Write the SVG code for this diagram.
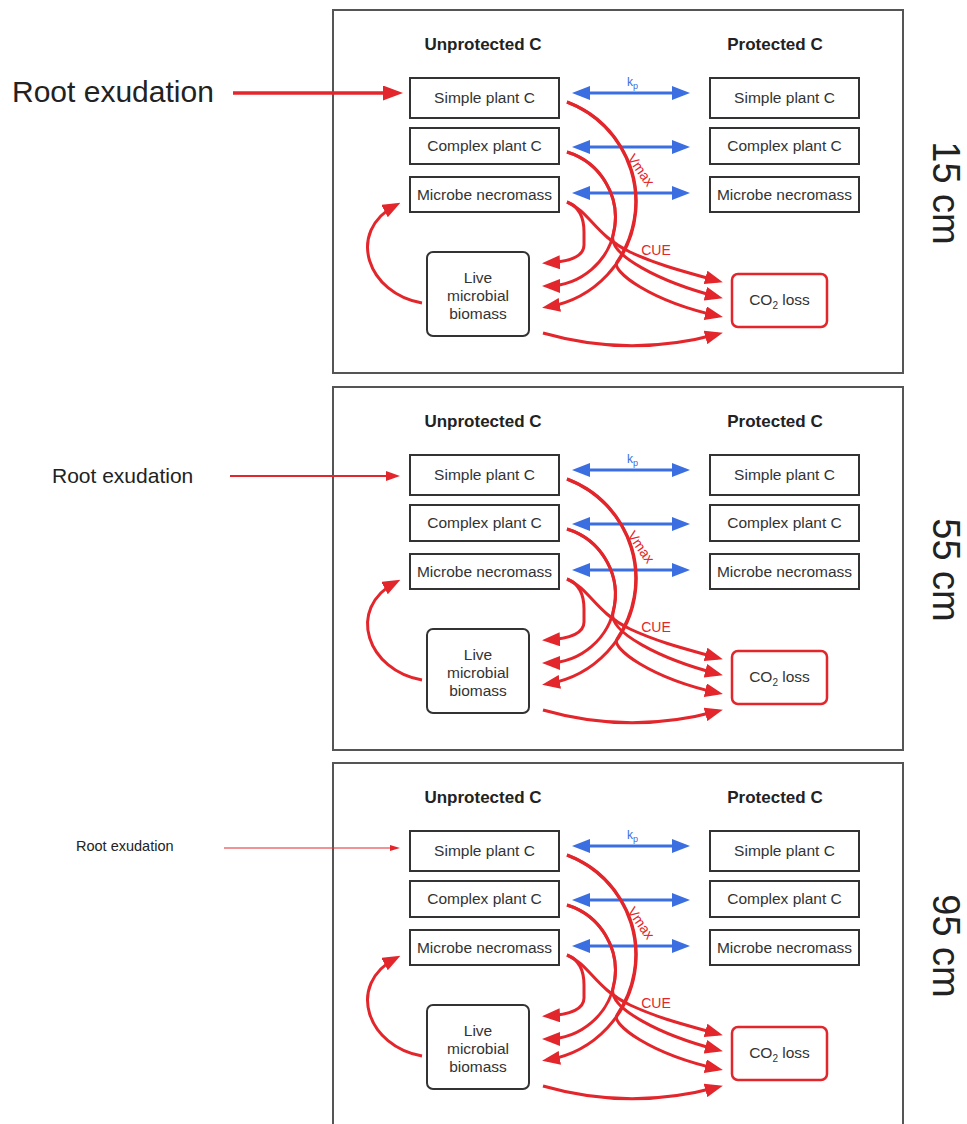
<svg xmlns="http://www.w3.org/2000/svg" width="967" height="1124" viewBox="0 0 967 1124">
<defs>
<style>
.panel{fill:#fff;stroke:#555;stroke-width:2}
.box{fill:#fff;stroke:#333;stroke-width:2}
.co2{fill:#fff;stroke:#e3262b;stroke-width:2.5}
.hdr{font-family:'Liberation Sans',Arial,sans-serif;font-weight:bold;font-size:17px;fill:#222;text-anchor:middle}
.lbl{font-family:'Liberation Sans',Arial,sans-serif;font-size:15.5px;fill:#333;text-anchor:middle}
.rl{font-family:'Liberation Sans',Arial,sans-serif;font-size:14px;fill:#e3262b;text-anchor:middle}
.bl{font-family:'Liberation Sans',Arial,sans-serif;font-size:12px;fill:#3b6ee0}
.root{font-family:'Liberation Sans',Arial,sans-serif;fill:#222}
.depth{font-family:'Liberation Sans',Arial,sans-serif;font-size:38px;fill:#222;text-anchor:middle}
.red{fill:none;stroke:#e3262b;stroke-width:3;marker-end:url(#aR)}
.blue{fill:none;stroke:#3b6ee0;stroke-width:3;marker-start:url(#aB);marker-end:url(#aB)}
</style>
<marker id="aR" markerUnits="userSpaceOnUse" markerWidth="18" markerHeight="14" refX="13" refY="7" orient="auto"><path d="M0,0 L18,7 L0,14 z" fill="#e3262b"/></marker>
<marker id="aB" markerUnits="userSpaceOnUse" markerWidth="18" markerHeight="14" refX="13" refY="7" orient="auto-start-reverse"><path d="M0,0 L18,7 L0,14 z" fill="#3b6ee0"/></marker>
<marker id="aRoot1" markerUnits="userSpaceOnUse" markerWidth="20" markerHeight="15" refX="12" refY="7.5" orient="auto"><path d="M0,0 L20,7.5 L0,15 z" fill="#e3262b"/></marker>
<marker id="aRoot2" markerUnits="userSpaceOnUse" markerWidth="14" markerHeight="10" refX="8" refY="5" orient="auto"><path d="M0,0 L14,5 L0,10 z" fill="#e3262b"/></marker>
<marker id="aRoot3" markerUnits="userSpaceOnUse" markerWidth="10" markerHeight="6" refX="6" refY="3" orient="auto"><path d="M0,0 L10,3 L0,6 z" fill="#e3262b"/></marker>
</defs>
<rect x="0" y="0" width="967" height="1124" fill="#fff"/>

<!-- Panel 15 cm -->
<g id="panel-15cm">
<rect class="panel" x="333" y="10" width="570" height="363"/>
<text class="hdr" x="483" y="50">Unprotected C</text>
<text class="hdr" x="775" y="50">Protected C</text>
<text class="depth" transform="translate(933,193) rotate(90)">15 cm</text>
<text class="root" x="12" y="102" font-size="30">Root exudation</text>
<g id="p15-u-simple"><rect class="box" x="410" y="78" width="149" height="40"/><text class="lbl" x="484.5" y="103">Simple plant C</text></g>
<g id="p15-u-complex"><rect class="box" x="410" y="128" width="149" height="36"/><text class="lbl" x="484.5" y="151">Complex plant C</text></g>
<g id="p15-u-necro"><rect class="box" x="410" y="177" width="149" height="35"/><text class="lbl" x="484.5" y="200">Microbe necromass</text></g>
<g id="p15-p-simple"><rect class="box" x="710" y="78" width="149" height="40"/><text class="lbl" x="784.5" y="103">Simple plant C</text></g>
<g id="p15-p-complex"><rect class="box" x="710" y="128" width="149" height="36"/><text class="lbl" x="784.5" y="151">Complex plant C</text></g>
<g id="p15-p-necro"><rect class="box" x="710" y="177" width="149" height="35"/><text class="lbl" x="784.5" y="200">Microbe necromass</text></g>
<g id="p15-biomass"><rect class="box" x="427" y="252" width="102" height="84" rx="6"/><text class="lbl" x="478" y="283">Live</text><text class="lbl" x="478" y="301">microbial</text><text class="lbl" x="478" y="319">biomass</text></g>
<g id="p15-co2"><rect class="co2" x="732" y="274" width="95" height="53" rx="6"/><text class="lbl" x="779.5" y="305">CO<tspan font-size="10" dy="4">2</tspan><tspan dy="-4"> loss</tspan></text></g>
<g id="p15-connectors">
<path d="M233,93 L395,93" fill="none" stroke="#e3262b" stroke-width="3.5" marker-end="url(#aRoot1)"/>
<path class="blue" d="M577,93 L685,93"/>
<path class="blue" d="M577,147 L685,147"/>
<path class="blue" d="M577,193 L685,193"/>
<text class="bl" x="627" y="86">k<tspan font-size="9" dy="3">p</tspan></text>
<path class="red" d="M567,102 A106.6,106.6 0 0 1 547,307"/>
<path class="red" d="M567,152 A68.5,68.5 0 0 1 547,286"/>
<path class="red" d="M567,202 C580,207 584,218 584,232 L584,245 Q584,261 547,263"/>
<path class="red" d="M567,102 A106.6,106.6 0 0 1 617,262 C611,271 650,301 718,316"/>
<path class="red" d="M567,152 A68.5,68.5 0 0 1 613,235 C608,255 660,282 718,297"/>
<path class="red" d="M567,202 C590,212 595,235 630,252 C660,266 690,273 718,281"/>
<path class="red" d="M543,333 Q630,358 718,334"/>
<path class="red" d="M422,303 C368,294 345,232 396,205"/>
<text class="rl" transform="translate(641,170) rotate(55)" y="5">Vmax</text>
<text class="rl" x="656" y="255">CUE</text>
</g>
</g>

<!-- Panel 55 cm -->
<g id="panel-55cm" transform="translate(0,377)">
<rect class="panel" x="333" y="10" width="570" height="363"/>
<text class="hdr" x="483" y="50">Unprotected C</text>
<text class="hdr" x="775" y="50">Protected C</text>
<text class="depth" transform="translate(933,193) rotate(90)">55 cm</text>
<text class="root" x="52" y="106" font-size="21">Root exudation</text>
<g id="p55-u-simple"><rect class="box" x="410" y="78" width="149" height="40"/><text class="lbl" x="484.5" y="103">Simple plant C</text></g>
<g id="p55-u-complex"><rect class="box" x="410" y="128" width="149" height="36"/><text class="lbl" x="484.5" y="151">Complex plant C</text></g>
<g id="p55-u-necro"><rect class="box" x="410" y="177" width="149" height="35"/><text class="lbl" x="484.5" y="200">Microbe necromass</text></g>
<g id="p55-p-simple"><rect class="box" x="710" y="78" width="149" height="40"/><text class="lbl" x="784.5" y="103">Simple plant C</text></g>
<g id="p55-p-complex"><rect class="box" x="710" y="128" width="149" height="36"/><text class="lbl" x="784.5" y="151">Complex plant C</text></g>
<g id="p55-p-necro"><rect class="box" x="710" y="177" width="149" height="35"/><text class="lbl" x="784.5" y="200">Microbe necromass</text></g>
<g id="p55-biomass"><rect class="box" x="427" y="252" width="102" height="84" rx="6"/><text class="lbl" x="478" y="283">Live</text><text class="lbl" x="478" y="301">microbial</text><text class="lbl" x="478" y="319">biomass</text></g>
<g id="p55-co2"><rect class="co2" x="732" y="274" width="95" height="53" rx="6"/><text class="lbl" x="779.5" y="305">CO<tspan font-size="10" dy="4">2</tspan><tspan dy="-4"> loss</tspan></text></g>
<g id="p55-connectors">
<path d="M230,99 L394,99" fill="none" stroke="#e3262b" stroke-width="2" marker-end="url(#aRoot2)"/>
<path class="blue" d="M577,93 L685,93"/>
<path class="blue" d="M577,147 L685,147"/>
<path class="blue" d="M577,193 L685,193"/>
<text class="bl" x="627" y="86">k<tspan font-size="9" dy="3">p</tspan></text>
<path class="red" d="M567,102 A106.6,106.6 0 0 1 547,307"/>
<path class="red" d="M567,152 A68.5,68.5 0 0 1 547,286"/>
<path class="red" d="M567,202 C580,207 584,218 584,232 L584,245 Q584,261 547,263"/>
<path class="red" d="M567,102 A106.6,106.6 0 0 1 617,262 C611,271 650,301 718,316"/>
<path class="red" d="M567,152 A68.5,68.5 0 0 1 613,235 C608,255 660,282 718,297"/>
<path class="red" d="M567,202 C590,212 595,235 630,252 C660,266 690,273 718,281"/>
<path class="red" d="M543,333 Q630,358 718,334"/>
<path class="red" d="M422,303 C368,294 345,232 396,205"/>
<text class="rl" transform="translate(641,170) rotate(55)" y="5">Vmax</text>
<text class="rl" x="656" y="255">CUE</text>
</g>
</g>

<!-- Panel 95 cm -->
<g id="panel-95cm" transform="translate(0,753)">
<rect class="panel" x="333" y="10" width="570" height="363"/>
<text class="hdr" x="483" y="50">Unprotected C</text>
<text class="hdr" x="775" y="50">Protected C</text>
<text class="depth" transform="translate(933,193) rotate(90)">95 cm</text>
<text class="root" x="76" y="98" font-size="14.5">Root exudation</text>
<g id="p95-u-simple"><rect class="box" x="410" y="78" width="149" height="40"/><text class="lbl" x="484.5" y="103">Simple plant C</text></g>
<g id="p95-u-complex"><rect class="box" x="410" y="128" width="149" height="36"/><text class="lbl" x="484.5" y="151">Complex plant C</text></g>
<g id="p95-u-necro"><rect class="box" x="410" y="177" width="149" height="35"/><text class="lbl" x="484.5" y="200">Microbe necromass</text></g>
<g id="p95-p-simple"><rect class="box" x="710" y="78" width="149" height="40"/><text class="lbl" x="784.5" y="103">Simple plant C</text></g>
<g id="p95-p-complex"><rect class="box" x="710" y="128" width="149" height="36"/><text class="lbl" x="784.5" y="151">Complex plant C</text></g>
<g id="p95-p-necro"><rect class="box" x="710" y="177" width="149" height="35"/><text class="lbl" x="784.5" y="200">Microbe necromass</text></g>
<g id="p95-biomass"><rect class="box" x="427" y="252" width="102" height="84" rx="6"/><text class="lbl" x="478" y="283">Live</text><text class="lbl" x="478" y="301">microbial</text><text class="lbl" x="478" y="319">biomass</text></g>
<g id="p95-co2"><rect class="co2" x="732" y="274" width="95" height="53" rx="6"/><text class="lbl" x="779.5" y="305">CO<tspan font-size="10" dy="4">2</tspan><tspan dy="-4"> loss</tspan></text></g>
<g id="p95-connectors">
<path d="M224,95 L396,95" fill="none" stroke="#e3262b" stroke-width="1" marker-end="url(#aRoot3)"/>
<path class="blue" d="M577,93 L685,93"/>
<path class="blue" d="M577,147 L685,147"/>
<path class="blue" d="M577,193 L685,193"/>
<text class="bl" x="627" y="86">k<tspan font-size="9" dy="3">p</tspan></text>
<path class="red" d="M567,102 A106.6,106.6 0 0 1 547,307"/>
<path class="red" d="M567,152 A68.5,68.5 0 0 1 547,286"/>
<path class="red" d="M567,202 C580,207 584,218 584,232 L584,245 Q584,261 547,263"/>
<path class="red" d="M567,102 A106.6,106.6 0 0 1 617,262 C611,271 650,301 718,316"/>
<path class="red" d="M567,152 A68.5,68.5 0 0 1 613,235 C608,255 660,282 718,297"/>
<path class="red" d="M567,202 C590,212 595,235 630,252 C660,266 690,273 718,281"/>
<path class="red" d="M543,333 Q630,358 718,334"/>
<path class="red" d="M422,303 C368,294 345,232 396,205"/>
<text class="rl" transform="translate(641,170) rotate(55)" y="5">Vmax</text>
<text class="rl" x="656" y="255">CUE</text>
</g>
</g>
</svg>
